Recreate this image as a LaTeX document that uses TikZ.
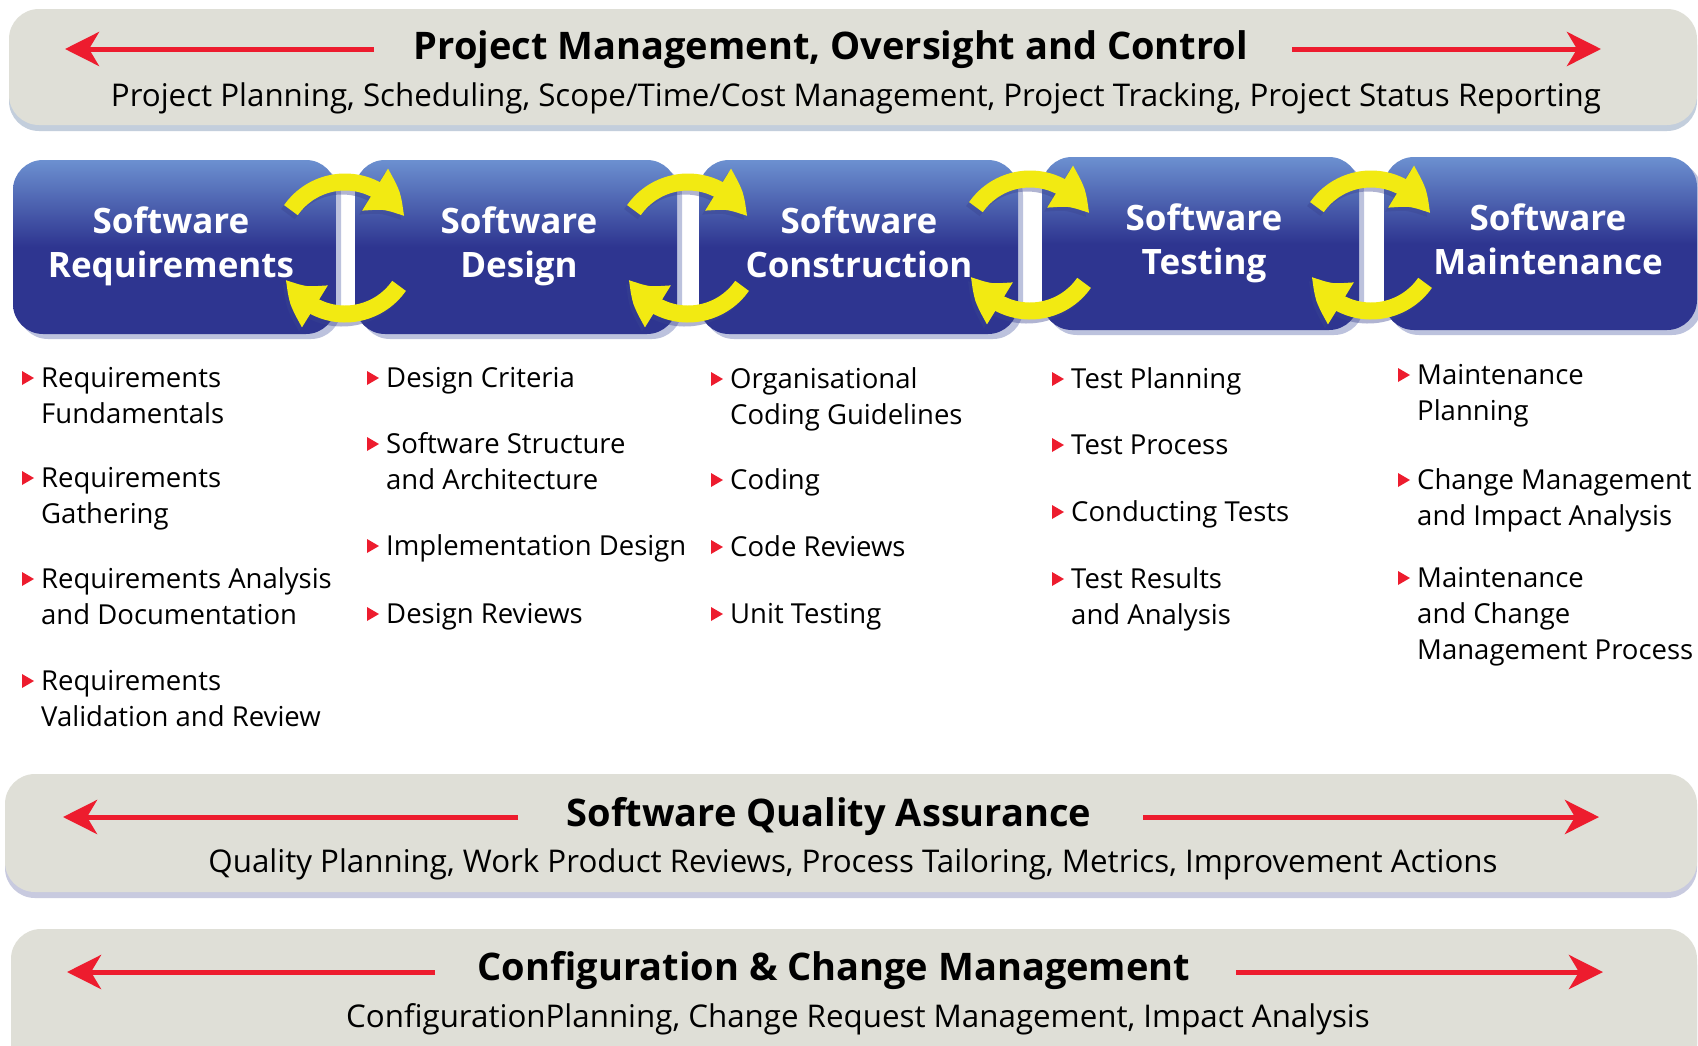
\documentclass[tikz,border=0pt]{standalone}
\usepackage{fontspec}
\setmainfont{Open Sans}
\usetikzlibrary{arrows.meta,bending,calc,shadows}
\definecolor{bandgrey}{HTML}{DFDFD7}
\definecolor{shadowtop}{HTML}{C3CEDC}
\definecolor{shadowlow}{HTML}{C8CADF}
\definecolor{arrowred}{HTML}{ED1C2E}
\definecolor{boxlight}{HTML}{6C90D0}
\definecolor{boxdark}{HTML}{2E3590}
\definecolor{boxshadow}{HTML}{BCC2DD}
\definecolor{yel}{HTML}{F2EA12}
\definecolor{yshadow}{HTML}{3A4490}
\newcommand\bitem[3]{%
  \node[itemtext] (#1) at (#2) {\begin{tabular}[t]{@{}l@{}}#3\end{tabular}};
  \fill[arrowred] ($(#1.base west)+(-19,2)$) -- ++(0,14) -- ++(12,-7) -- cycle;}
\begin{document}
\begin{tikzpicture}[x=1pt,y=1pt,
  redarrow/.style={draw=arrowred, line width=5pt, -{Stealth[length=34pt,width=34pt,inset=10pt]}},
  titletext/.style={anchor=base, inner sep=0pt, font=\bfseries\fontsize{38}{42}\selectfont},
  subtext/.style={anchor=base, inner sep=0pt, font=\fontsize{31.3}{36}\selectfont},
  stagebox/.style={rounded corners=30pt, top color=boxlight, bottom color=boxdark, middle color=boxdark,
    inner sep=0pt,
    drop shadow={shadow xshift=5pt, shadow yshift=-5pt, fill=boxshadow, opacity=1}},
  stagelabel/.style={text=white, align=center, inner sep=0pt, font=\bfseries\fontsize{35}{44}\selectfont},
  yarrow/.style={draw=yel, line width=17pt, -{Triangle[length=40pt,width=46pt,bend]}},
  yshad/.style={draw=yshadow, opacity=0.4, line width=17pt, -{Triangle[length=40pt,width=46pt,bend]}},
  itemtext/.style={anchor=base west, inner sep=0pt, font=\fontsize{27.5}{36}\selectfont}
]
\useasboundingbox (0,0) rectangle (1698,-1045);
\fill[white] (0,0) rectangle (1698,-1045);

% ---------- top band
\fill[shadowtop, rounded corners=30pt] (9,-15) rectangle (1697,-131);
\fill[bandgrey, rounded corners=30pt] (9,-9) rectangle (1697,-125);
\node[titletext] (pmt) at (831,-59) {Project Management, Oversight and Control};
\node[subtext] (pms) at (856,-106) {Project Planning, Scheduling, Scope/Time/Cost Management, Project Tracking, Project Status Reporting};
\coordinate (pmL1) at (374,-49); \coordinate (pmL2) at (65,-49);
\coordinate (pmR1) at (1292,-49); \coordinate (pmR2) at (1601,-49);
\draw[redarrow] (pmL1) -- (pmL2);
\draw[redarrow] (pmR1) -- (pmR2);

% ---------- stage boxes
\node[stagebox, minimum width=323pt, minimum height=174pt] (b1) at (174.5,-247) {};
\node[stagebox, minimum width=322pt, minimum height=174pt] (b2) at (516,-247) {};
\node[stagebox, minimum width=319pt, minimum height=174pt] (b3) at (858.5,-247) {};
\node[stagebox, minimum width=317pt, minimum height=173pt] (b4) at (1200.5,-243.5) {};
\node[stagebox, minimum width=313pt, minimum height=173pt] (b5) at (1540.5,-243.5) {};
\node[stagelabel] (t1) at (171,-247) {Software\strut\\Requirements\strut};
\node[stagelabel] (t2) at (519,-247) {Software\strut\\Design\strut};
\node[stagelabel] (t3) at (859,-247) {Software\strut\\Construction\strut};
\node[stagelabel] (t4) at (1204,-244) {Software\strut\\Testing\strut};
\node[stagelabel] (t5) at (1548,-244) {Software\strut\\Maintenance\strut};

% ---------- cycle arrows between boxes
\foreach \cx/\cy in {345/-248, 688/-248, 1030/-245, 1371/-245}{
  \draw[yshad] (\cx-3,\cy-4) ++(145:66) arc[start angle=145, end angle=28, radius=66];
  \draw[yshad] (\cx-3,\cy-4) ++(-35:66) arc[start angle=-35, end angle=-152, radius=66];
  \draw[yarrow] (\cx,\cy) ++(145:66) arc[start angle=145, end angle=28, radius=66];
  \draw[yarrow] (\cx,\cy) ++(-35:66) arc[start angle=-35, end angle=-152, radius=66];
}

% ---------- column items
\bitem{c1a}{41,-387}{Requirements\\Fundamentals}
\bitem{c1b}{41,-487}{Requirements\\Gathering}
\bitem{c1c}{41,-588}{Requirements Analysis\\and Documentation}
\bitem{c1d}{41,-690}{Requirements\\Validation and Review}

\bitem{c2a}{386,-387}{Design Criteria}
\bitem{c2b}{386,-453}{Software Structure\\and Architecture}
\bitem{c2c}{386,-555}{Implementation Design}
\bitem{c2d}{386,-623}{Design Reviews}

\bitem{c3a}{730,-388}{Organisational\\Coding Guidelines}
\bitem{c3b}{730,-489}{Coding}
\bitem{c3c}{730,-556}{Code Reviews}
\bitem{c3d}{730,-623}{Unit Testing}

\bitem{c4a}{1071,-388}{Test Planning}
\bitem{c4b}{1071,-454}{Test Process}
\bitem{c4c}{1071,-521}{Conducting Tests}
\bitem{c4d}{1071,-588}{Test Results\\and Analysis}

\bitem{c5a}{1417,-384}{Maintenance\\Planning}
\bitem{c5b}{1417,-489}{Change Management\\and Impact Analysis}
\bitem{c5c}{1417,-587}{Maintenance\\and Change\\Management Process}

% ---------- quality assurance band
\fill[shadowlow, rounded corners=30pt] (5,-780) rectangle (1697,-898);
\fill[bandgrey, rounded corners=30pt] (5,-774) rectangle (1697,-892);
\node[titletext] (qat) at (829,-826) {Software Quality Assurance};
\node[subtext] (qas) at (853,-872) {Quality Planning, Work Product Reviews, Process Tailoring, Metrics, Improvement Actions};
\coordinate (qaL1) at (518,-817); \coordinate (qaL2) at (63,-817);
\coordinate (qaR1) at (1143,-817); \coordinate (qaR2) at (1599,-817);
\draw[redarrow] (qaL1) -- (qaL2);
\draw[redarrow] (qaR1) -- (qaR2);

% ---------- configuration band
\fill[shadowlow, rounded corners=30pt] (11,-935) rectangle (1697,-1080);
\fill[bandgrey, rounded corners=30pt] (11,-929) rectangle (1697,-1074);
\node[titletext] (cmt) at (834,-980) {Configuration \& Change Management};
\node[subtext] (cms) at (858,-1027) {ConfigurationPlanning, Change Request Management, Impact Analysis};
\coordinate (cmL1) at (435,-972); \coordinate (cmL2) at (67,-972);
\coordinate (cmR1) at (1236,-972); \coordinate (cmR2) at (1603,-972);
\draw[redarrow] (cmL1) -- (cmL2);
\draw[redarrow] (cmR1) -- (cmR2);
\end{tikzpicture}
\end{document}
